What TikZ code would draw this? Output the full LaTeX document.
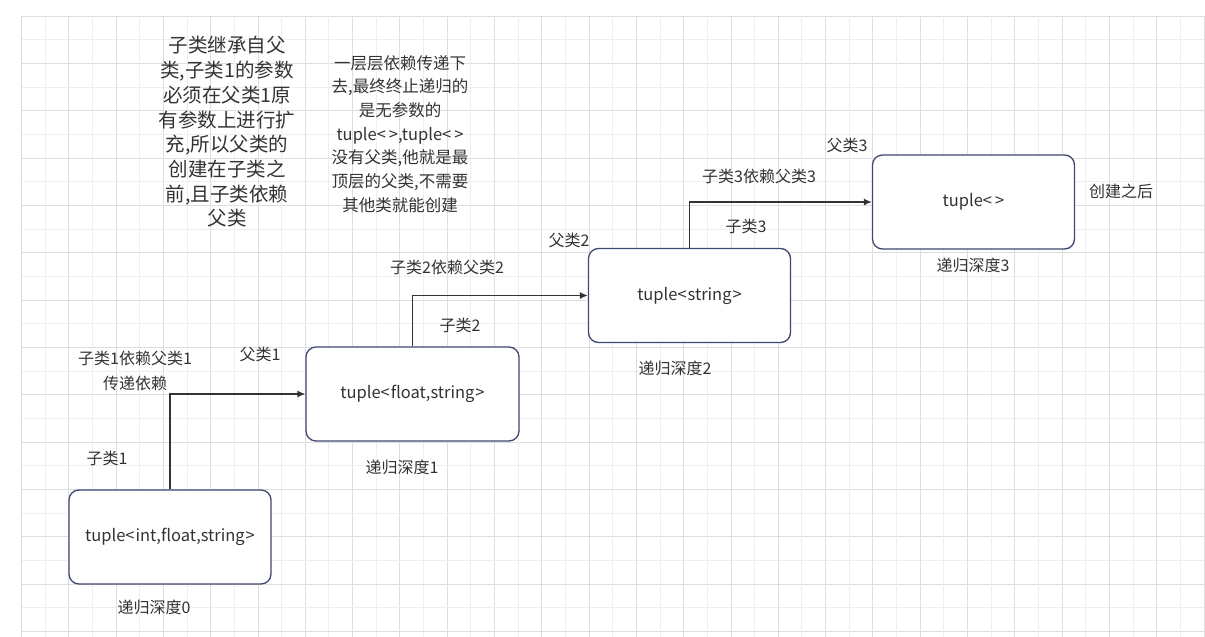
\documentclass[tikz,border=0pt]{standalone}
\usepackage{fontspec}
\setmainfont{Noto Sans CJK SC}
\usepackage{tikz}
\usetikzlibrary{arrows.meta,positioning,calc}
\definecolor{gdMajor}{RGB}{222,222,222}
\definecolor{gdMinor}{RGB}{238,238,238}
\definecolor{bxLine} {RGB}{ 62, 72,112}
\definecolor{txGray} {RGB}{ 51, 51, 51}

\begin{document}
\begin{tikzpicture}[
  x=1pt,y=-1pt,
  every node/.style={font=\fontsize{16}{20}\selectfont,text=txGray},
  >={Latex[length=8pt,width=7pt]},
  tbox/.style={draw=bxLine,line width=1.3pt,rounded corners=10pt,fill=white,
               minimum width=202pt,minimum height=94pt,align=center,
               font=\fontsize{16.5}{20}\selectfont},
  lbl/.style={inner sep=0pt,align=center},
  note/.style={lbl,font=\fontsize{16.5}{23.7}\selectfont},
  bignote/.style={lbl,font=\fontsize{19.5}{24.7}\selectfont},
  link/.style={->,line width=1.3pt,draw=txGray}
]
\useasboundingbox (0,0) rectangle (1205,637);
\fill[white] (0,0) rectangle (1205,637);
\begin{scope}
  \clip (21,15.5) rectangle (1205,637);
  \foreach \i in {0,...,50} {
    \pgfmathsetmacro{\gx}{21.5+23.65*\i}
    \pgfmathsetmacro{\gy}{16+23.67*\i}
    \pgfmathtruncatemacro{\odd}{mod(\i,2)}
    \ifnum\odd=1
      \draw[gdMinor,line width=1pt] (\gx,16) -- (\gx,637);
      \draw[gdMinor,line width=1pt] (21.5,\gy) -- (1205,\gy);
    \else
      \draw[gdMajor,line width=1pt] (\gx,16) -- (\gx,637);
      \draw[gdMajor,line width=1pt] (21.5,\gy) -- (1205,\gy);
    \fi
  }
\end{scope}

\node[tbox] (T0) at (170,537)   {tuple<\kern1pt int,float,string\kern1pt>};
\node[tbox,minimum width=213pt] (T1) at (412.5,394) {tuple<\kern1pt float,string\kern1pt>};
\node[tbox] (T2) at (689.5,295.5) {tuple<\kern1pt string\kern1pt>};
\node[tbox] (T3) at (973.5,202)   {tuple<\kern3pt>};

\node[lbl] (D0) at (154,607) {递归深度0};
\node[lbl] (D1) at (402,467) {递归深度1};
\node[lbl] (D2) at (675,368) {递归深度2};
\node[lbl] (D3) at (973,265) {递归深度3};

\node[lbl,font=\fontsize{16}{25}\selectfont] (R1) at (135,371) {子类1依赖父类1\\传递依赖};
\node[lbl] (R2) at (447,267) {子类2依赖父类2};
\node[lbl] (R3) at (759,176) {子类3依赖父类3};

\node[lbl] (S1) at (107,458) {子类1};
\node[lbl] (S2) at (460,325) {子类2};
\node[lbl] (S3) at (746,226) {子类3};

\node[lbl] (P1) at (260,354) {父类1};
\node[lbl] (P2) at (569,240) {父类2};
\node[lbl] (P3) at (847,145) {父类3};

\node[lbl] (Done) at (1121,191) {创建之后};

\node[bignote] (N1) at (227,132) {子类继承自父\\类,子类1的参数\\必须在父类1原\\有参数上进行扩\\充,所以父类的\\创建在子类之\\前,且子类依赖\\父类};
\node[note] (N2) at (400,134) {一层层依赖传递下\\去,最终终止递归的\\是无参数的\\tuple<\kern3pt>,tuple<\kern3pt>\\没有父类,他就是最\\顶层的父类,不需要\\其他类就能创建};

\draw[link] (T0.north) |- (T1.west);
\draw[link] (T1.north) |- (T2.west);
\draw[link] (T2.north) |- (T3.west);
\end{tikzpicture}
\end{document}
